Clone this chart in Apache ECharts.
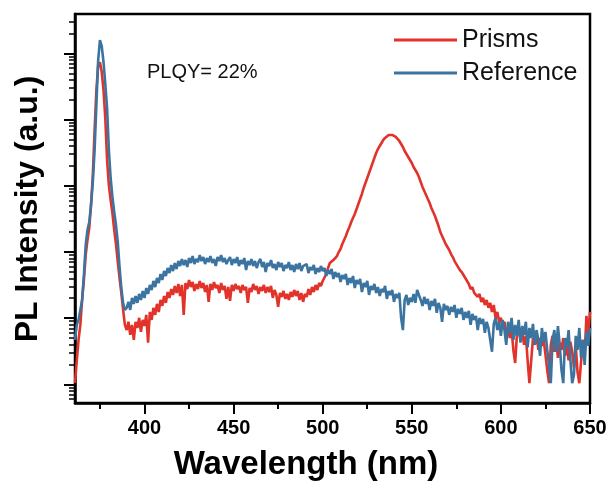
<!DOCTYPE html>
<html>
<head>
<meta charset="utf-8">
<script src="https://cdn.jsdelivr.net/npm/echarts@6/dist/echarts.min.js"></script>
<style>
  html, body { margin: 0; padding: 0; background: #fff; }
  #chart { width: 610px; height: 483px; }
</style>
</head>
<body>
<div id="chart"></div>
<script>
// wavelength of the first sample, one sample per nm up to 650 nm
const startNm = 361

const prisms = [
  10.5, 23, 47, 79, 188, 377, 905, 1515, 2300, 5120, 14500, 69300, 279000, 664000, 737000, 522000, 279000, 105000, 24400, 10200, 6070, 3860, 2150, 1315, 705, 404, 239, 133, 79,
  66, 88, 56, 79, 47, 88, 71, 101, 62, 94,
  76, 112, 42.5, 124, 94, 143, 112, 164, 124, 188,
  153, 216, 170, 248, 202, 275, 224, 306, 240, 328,
  216, 317, 112, 339, 275, 377, 295, 351, 257, 328,
  275, 364, 285, 339, 248, 317, 176, 328, 266, 351,
  285, 317, 240, 339, 266, 306, 195, 295, 182, 317,
  257, 328, 275, 306, 240, 317, 266, 295, 170, 285,
  248, 328, 266, 306, 232, 295, 257, 317, 240, 295,
  248, 306, 202, 266, 224, 148, 240, 209, 257, 195,
  232, 188, 248, 209, 266, 216, 257, 188, 240, 176,
  232, 209, 275, 224, 295, 248, 317, 266, 339, 306,
  364, 377, 464, 571, 679, 634, 754, 728, 867, 996,
  1106, 1316, 1513, 1739, 2070, 2379, 2831, 3254, 3740, 4451,
  5297, 6304, 7502, 9244, 11000, 13090, 15580, 18540, 22070, 26260,
  31260, 35920, 39880, 44260, 49130, 52680, 56470, 58470, 58470, 58470,
  56470, 54540, 50870, 47450, 42750, 38510, 33510, 30190, 27200, 24500,
  22070, 19200, 17300, 15580, 13560, 11400, 9596, 8350, 7264, 6304,
  5480, 4608, 4010, 3490, 2930, 2460, 2000, 1739, 1513, 1316,
  1186, 1068, 929, 837, 728, 656, 591, 533, 497, 448,
  418, 364, 328, 275, 295, 240, 257, 209, 232, 176,
  202, 158, 188, 143, 170, 124, 158, 101, 124, 88,
  101, 71, 88, 58, 71, 50, 66, 33, 21, 56,
  71, 47, 62, 39.5, 54, 23, 10.4, 10.4, 50, 39.5,
  60, 33, 50, 38, 47, 28, 16.4, 10.4, 39.5, 54,
  31, 47, 25, 42.5, 33, 50, 27, 39.5, 23, 44,
  31, 17.6, 38, 15.3, 10.4, 10.4, 47, 28, 108, 56,
  124
]

const reference = [
  47, 79, 94, 100, 188, 449, 1270, 2150, 2830, 5120, 11400, 34700, 166000, 790000, 1590000, 1290000, 740000, 344000, 149000, 34700, 13100, 6760, 4020, 2550, 1410, 592, 285, 169, 133,
  143, 176, 133, 202, 164, 216, 170, 232, 188, 257,
  202, 285, 232, 317, 266, 364, 295, 404, 339, 464,
  377, 514, 433, 571, 480, 634, 514, 679, 551, 728,
  612, 781, 634, 754, 591, 808, 679, 867, 656, 781,
  703, 897, 728, 837, 656, 808, 703, 867, 679, 781,
  612, 837, 728, 897, 703, 808, 656, 754, 837, 634,
  781, 679, 837, 612, 754, 656, 808, 533, 728, 634,
  781, 612, 728, 571, 703, 781, 591, 703, 497, 679,
  612, 754, 571, 656, 533, 703, 591, 679, 514, 634,
  571, 703, 533, 634, 497, 656, 551, 679, 514, 612,
  571, 656, 480, 591, 533, 634, 464, 571, 497, 612,
  514, 571, 433, 533, 464, 551, 390, 497, 418, 480,
  351, 448, 390, 464, 317, 404, 339, 433, 285, 377,
  328, 390, 248, 339, 295, 364, 224, 306, 266, 328,
  240, 295, 216, 275, 248, 306, 195, 257, 224, 266,
  176, 232, 202, 240, 101, 66, 188, 224, 158, 202,
  176, 232, 170, 266, 285, 188, 153, 209, 164, 195,
  133, 182, 153, 195, 120, 170, 143, 88, 164, 133,
  153, 112, 148, 124, 158, 101, 138, 116, 143, 94,
  124, 101, 129, 79, 116, 94, 108, 66, 101, 82,
  97, 60, 88, 71, 47, 31, 82, 101, 66, 88,
  54, 94, 66, 39.5, 88, 60, 101, 47, 79, 54,
  94, 42.5, 76, 56, 88, 36, 71, 50, 82, 39.5,
  66, 47, 27, 71, 44, 62, 33, 19.6, 10.4, 47,
  66, 31, 76, 39.5, 16.4, 10.4, 50, 36, 66, 23,
  10.4, 13.8, 54, 33, 71, 25, 47, 19.6, 62, 38,
  71
]

const xMajor = [400, 450, 500, 550, 600, 650]
const xMinor = [375, 425, 475, 525, 575, 625]
const yMajor = [10, 100, 1e3, 1e4, 1e5, 1e6]
const yMinor = [
  6, 7, 8, 9,
  20, 30, 40, 50, 60, 70, 80, 90,
  200, 300, 400, 500, 600, 700, 800, 900,
  2e3, 3e3, 4e3, 5e3, 6e3, 7e3, 8e3, 9e3,
  2e4, 3e4, 4e4, 5e4, 6e4, 7e4, 8e4, 9e4,
  2e5, 3e5, 4e5, 5e5, 6e5, 7e5, 8e5, 9e5,
  2e6, 3e6
]

const font = 'Liberation Sans, Arial, sans-serif'
const red = '#e2332a'
const blue = '#3b74a0'

const withNm = arr => arr.map((v, i) => [startNm + i, v])

const chart = echarts.init(document.getElementById('chart'), null, { renderer: 'canvas' })

chart.setOption({
  animation: false,
  backgroundColor: '#fff',
  grid: {
    left: 75,
    right: 20,
    top: 14,
    bottom: 80,
    show: true,
    borderColor: '#000',
    borderWidth: 2.5,
    backgroundColor: 'transparent'
  },
  legend: {
    orient: 'vertical',
    left: 389,
    top: 22,
    itemWidth: 63,
    itemHeight: 3,
    itemGap: 7,
    icon: 'rect',
    textStyle: { fontFamily: font, fontSize: 25, color: '#111', lineHeight: 26 },
    data: ['Prisms', 'Reference']
  },
  xAxis: [
    {
      type: 'value',
      min: 361,
      max: 650,
      axisLine: { show: true, onZero: false, lineStyle: { color: '#000', width: 2.5 } },
      axisTick: { show: true, length: 11, customValues: xMajor, lineStyle: { color: '#000', width: 2 } },
      axisLabel: {
        show: true,
        customValues: xMajor,
        margin: 15,
        fontFamily: font,
        fontWeight: 'bold',
        fontSize: 20,
        color: '#000'
      },
      splitLine: { show: false }
    },
    {
      type: 'value',
      position: 'bottom',
      min: 361,
      max: 650,
      axisLine: { show: false, onZero: false },
      axisTick: { show: true, length: 6, customValues: xMinor, lineStyle: { color: '#000', width: 2 } },
      axisLabel: { show: false },
      splitLine: { show: false }
    }
  ],
  yAxis: [
    {
      type: 'log',
      logBase: 10,
      min: 5.22,
      max: 3.93e6,
      axisLine: { show: true, onZero: false, lineStyle: { color: '#000', width: 2.5 } },
      axisTick: { show: true, length: 11, customValues: yMajor, lineStyle: { color: '#000', width: 2 } },
      axisLabel: { show: false },
      splitLine: { show: false }
    },
    {
      type: 'log',
      logBase: 10,
      position: 'left',
      min: 5.22,
      max: 3.93e6,
      axisLine: { show: false, onZero: false },
      axisTick: { show: true, length: 6, customValues: yMinor, lineStyle: { color: '#000', width: 1.5 } },
      axisLabel: { show: false },
      splitLine: { show: false }
    }
  ],
  graphic: [
    {
      type: 'text',
      left: 147,
      top: 62,
      style: { text: 'PLQY= 22%', fontFamily: font, fontSize: 20, fill: '#111' }
    },
    {
      type: 'text',
      x: 306,
      y: 465,
      style: {
        text: 'Wavelength (nm)',
        fontFamily: font,
        fontWeight: 'bold',
        fontSize: 33,
        fill: '#000',
        textAlign: 'center',
        textVerticalAlign: 'middle'
      }
    },
    {
      type: 'text',
      x: 28,
      y: 209,
      rotation: Math.PI / 2,
      style: {
        text: 'PL Intensity (a.u.)',
        fontFamily: font,
        fontWeight: 'bold',
        fontSize: 32,
        fill: '#000',
        textAlign: 'center',
        textVerticalAlign: 'middle'
      }
    }
  ],
  series: [
    {
      name: 'Prisms',
      type: 'line',
      xAxisIndex: 0,
      yAxisIndex: 0,
      showSymbol: false,
      color: red,
      lineStyle: { color: red, width: 2.6 },
      data: withNm(prisms)
    },
    {
      name: 'Reference',
      type: 'line',
      xAxisIndex: 0,
      yAxisIndex: 0,
      showSymbol: false,
      color: blue,
      lineStyle: { color: blue, width: 2.6 },
      data: withNm(reference)
    }
  ]
})
</script>
</body>
</html>
